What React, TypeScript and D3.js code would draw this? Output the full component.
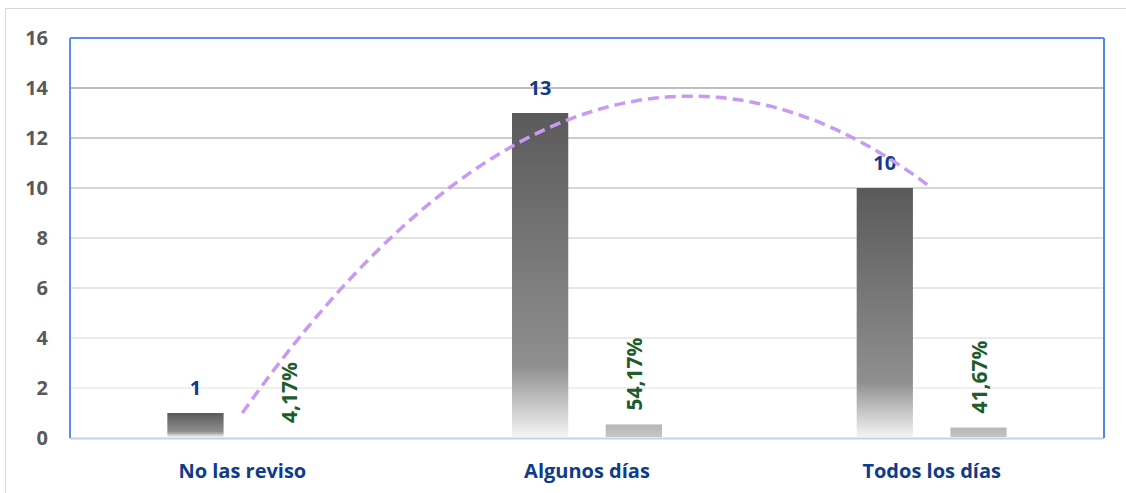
import * as d3 from "d3";

const categories = ["No las reviso", "Algunos días", "Todos los días"];
const counts = [1, 13, 10];
const percents = [0.0417, 0.5417, 0.4167];
const percentLabels = ["4,17%", "54,17%", "41,67%"];
const yTicks = [0, 2, 4, 6, 8, 10, 12, 14, 16];

const W = 1126;
const H = 493;
const margin = { top: 38, right: 22, bottom: 55, left: 70 };
const FONT = "'Open Sans', 'Noto Sans', sans-serif";

// quadratic least-squares fit of the counts (Excel polynomial trendline)
function polyFit2(xs: number[], ys: number[]) {
  const n = xs.length;
  const s = (f: (x: number, y: number) => number) =>
    d3.sum(xs, (x, i) => f(x, ys[i]));
  const m = [
    [n, s((x) => x), s((x) => x * x), s((_, y) => y)],
    [s((x) => x), s((x) => x * x), s((x) => x ** 3), s((x, y) => x * y)],
    [s((x) => x * x), s((x) => x ** 3), s((x) => x ** 4), s((x, y) => x * x * y)],
  ];
  for (let i = 0; i < 3; i++) {
    for (let k = i + 1; k < 3; k++) {
      const f = m[k][i] / m[i][i];
      for (let j = i; j < 4; j++) m[k][j] -= f * m[i][j];
    }
  }
  const c = [0, 0, 0];
  for (let i = 2; i >= 0; i--) {
    let v = m[i][3];
    for (let j = i + 1; j < 3; j++) v -= m[i][j] * c[j];
    c[i] = v / m[i][i];
  }
  return (x: number) => c[0] + c[1] * x + c[2] * x * x;
}

export default function App() {
  const innerW = W - margin.left - margin.right;
  const innerH = H - margin.top - margin.bottom;

  const x0 = d3.scaleBand().domain(categories).range([0, innerW]);
  const x1 = d3
    .scaleBand()
    .domain(["count", "pct"])
    .range([-75, 75])
    .paddingInner(0.4);
  const y = d3.scaleLinear().domain([0, 16]).range([innerH, 0]);
  const gridColor = d3
    .scaleLinear<string>()
    .domain([2, 8, 14])
    .range(["#f0f0f0", "#e2e2e2", "#bfbfbf"]);

  const center = (c: string) => (x0(c) ?? 0) + x0.bandwidth() / 2;

  // trendline over category index (1..3)
  const idx = categories.map((_, i) => i + 1);
  const fit = polyFit2(idx, counts);
  const xIdx = d3
    .scaleLinear()
    .domain([1, 3])
    .range([center(categories[0]), center(categories[2])]);
  const trendPts = d3.range(1, 3.0001, 0.02).map((t) => [xIdx(t), y(fit(t))]);
  const trend = d3.line().curve(d3.curveMonotoneX)(trendPts as [number, number][]);

  return (
    <div style={{ position: "fixed", left: 0, top: 0 }}>
      <svg width={W} height={H} style={{ display: "block", background: "#fff" }}>
        <defs>
          <linearGradient id="barGrad" x1="0" y1="0" x2="0" y2="1">
            <stop offset="0%" stopColor="#5a5a5a" />
            <stop offset="78%" stopColor="#8f8f8f" />
            <stop offset="100%" stopColor="#f4f4f4" />
          </linearGradient>
          <linearGradient id="pctGrad" x1="0" y1="0" x2="0" y2="1">
            <stop offset="0%" stopColor="#b6b6b6" />
            <stop offset="100%" stopColor="#c6c6c6" />
          </linearGradient>
        </defs>
        <rect x={5.5} y={8.5} width={1130} height={500} fill="none" stroke="#d9d9d9" />
        <g transform={`translate(${margin.left},${margin.top})`}>
          {yTicks.slice(1, -1).map((t) => (
            <line
              key={t}
              x1={0}
              x2={innerW}
              y1={y(t)}
              y2={y(t)}
              stroke={gridColor(t)}
              strokeWidth={2}
            />
          ))}
          {yTicks.map((t) => (
            <text
              key={t}
              x={-22}
              y={y(t)}
              dy="0.35em"
              textAnchor="end"
              fontFamily={FONT}
              fontWeight="bold"
              fontSize={20}
              fill="#595959"
            >
              {t}
            </text>
          ))}
          {categories.map((c, i) => {
            const cx = center(c);
            const bx = cx + (x1("count") ?? 0);
            const px = cx + (x1("pct") ?? 0);
            const bw = x1.bandwidth();
            return (
              <g key={c}>
                <rect
                  x={bx}
                  y={y(counts[i])}
                  width={bw}
                  height={y(0) - y(counts[i]) - 1}
                  fill="url(#barGrad)"
                />
                <rect
                  x={px}
                  y={y(percents[i])}
                  width={bw}
                  height={Math.max(0, y(0) - y(percents[i]) - 1)}
                  fill="url(#pctGrad)"
                />
                <text
                  x={bx + bw / 2}
                  y={y(counts[i]) - 18}
                  textAnchor="middle"
                  fontFamily={FONT}
                  fontWeight="bold"
                  fontSize={20}
                  fill="#0f3b8c"
                >
                  {counts[i]}
                </text>
                <text
                  transform={`translate(${px + bw / 2 + 8},${y(percents[i]) - 14}) rotate(-90)`}
                  textAnchor="start"
                  fontFamily={FONT}
                  fontWeight="bold"
                  fontSize={21}
                  fill="#1d5c2c"
                >
                  {percentLabels[i]}
                </text>
                <text
                  x={cx}
                  y={innerH + 40}
                  textAnchor="middle"
                  fontFamily={FONT}
                  fontWeight="bold"
                  fontSize={20}
                  fill="#0f3b8c"
                >
                  {c}
                </text>
              </g>
            );
          })}
          <path
            d={trend ?? ""}
            fill="none"
            stroke="#c899f5"
            strokeWidth={3.5}
            strokeDasharray="11,6"
          />
          <line x1={0} x2={innerW} y1={innerH + 0.5} y2={innerH + 0.5} stroke="#c3d2ea" strokeWidth={2} />
          <line x1={0} x2={0} y1={0} y2={innerH} stroke="#5b8ef0" strokeWidth={2} />
          <line x1={0} x2={innerW} y1={0} y2={0} stroke="#5b8ef0" strokeWidth={2} />
          <line x1={innerW} x2={innerW} y1={0} y2={innerH} stroke="#4f87f2" strokeWidth={2} />
        </g>
      </svg>
    </div>
  );
}
